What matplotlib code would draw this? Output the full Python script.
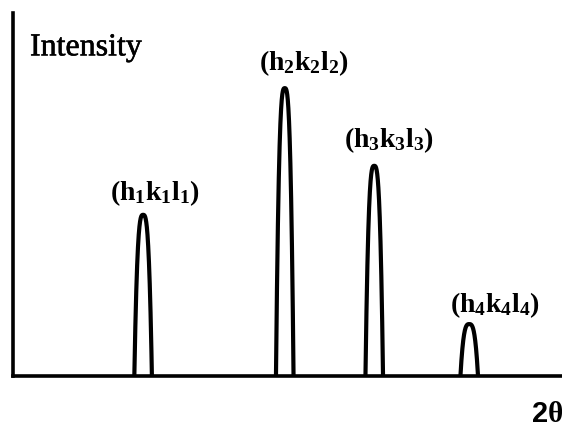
import numpy as np
import matplotlib.pyplot as plt
import matplotlib.patheffects as pe

plt.rcParams['mathtext.fontset'] = 'custom'
plt.rcParams['mathtext.rm'] = 'Liberation Serif'
plt.rcParams['mathtext.bf'] = 'Liberation Serif:bold'

# diffraction peaks: position (2theta, arbitrary units), height, half width
centers = [23.7, 49.5, 65.8, 83.1]
heights = [44.4, 79.3, 57.9, 14.3]
half_widths = [1.6, 1.6, 1.6, 1.6]
labels = [r'$\mathbf{(h_1k_1l_1)}$', r'$\mathbf{(h_2k_2l_2)}$',
          r'$\mathbf{(h_3k_3l_3)}$', r'$\mathbf{(h_4k_4l_4)}$']
label_x = [25.9, 52.9, 68.4, 87.7]
label_y = [46.4, 82.1, 61.0, 15.5]

fig = plt.figure(figsize=(5.62, 4.29), dpi=100)
ax = fig.add_axes([13 / 562, 53 / 429, 549 / 562, 363 / 429])

for c, h, w in zip(centers, heights, half_widths):
    x = np.linspace(c - w, c + w, 300)
    y = h * (1 - np.abs((x - c) / w) ** 3)
    ax.plot(x, y, color='black', lw=3.0, solid_capstyle='butt')

for lx, ly, lab in zip(label_x, label_y, labels):
    ax.text(lx, ly, lab, ha='center', va='bottom', fontsize=20)

ax.set_xlim(0, 100)
ax.set_ylim(0, 100)
ax.set_xticks([])
ax.set_yticks([])
for s in ['top', 'right']:
    ax.spines[s].set_visible(False)
for s in ['left', 'bottom']:
    ax.spines[s].set_linewidth(2.6)

ax.text(3.1, 90.4, 'Intensity', fontsize=23, family='Liberation Serif',
        ha='left', va='center',
        path_effects=[pe.withStroke(linewidth=0.4, foreground='black')])
fig.text(1.002, 0.035, r'2$\mathbf{\theta}$', fontsize=21, fontweight='bold',
         family='Liberation Sans', ha='right', va='center')

plt.savefig('out.png')
